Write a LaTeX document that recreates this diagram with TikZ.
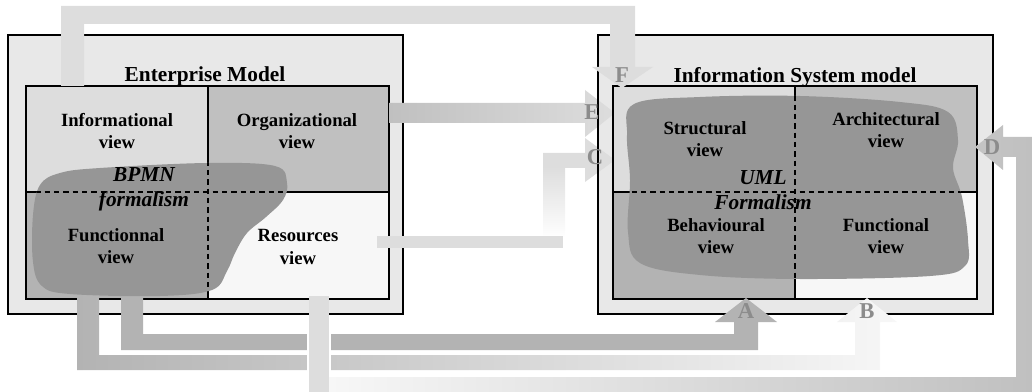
\documentclass[tikz,border=0pt]{standalone}
\usepackage{fontspec}
\setmainfont{Liberation Serif}
\usepackage{xcolor}
\usepackage{tikz}
\definecolor{outerC}{HTML}{E8E8E8}
\definecolor{lightC}{HTML}{DDDDDD}
\definecolor{midC}{HTML}{C0C0C0}
\definecolor{darkC}{HTML}{B3B3B3}
\definecolor{paleC}{HTML}{F7F7F7}
\definecolor{blobC}{HTML}{969696}
\definecolor{tagC}{HTML}{8C8C8C}
\tikzset{
  boxline/.style={draw=black, line width=1.3pt},
  dashdiv/.style={draw=black, line width=1pt, dash pattern=on 4pt off 3pt},
  blob/.style={fill=blobC},
  gap/.style={draw=white, line width=1.5pt},
  lab/.style={font=\fontsize{14}{17}\selectfont\bfseries, align=center, inner sep=0pt},
  ttl/.style={font=\fontsize{16}{19}\selectfont\bfseries, inner sep=0pt},
  frm/.style={font=\fontsize{16}{19}\selectfont\bfseries\itshape, align=center, inner sep=0pt},
  tag/.style={font=\fontsize{17}{17}\selectfont\bfseries, text=tagC, inner sep=0pt},
}
\newcommand\bpmnshape{plot[smooth cycle, tension=0.6] coordinates {(33,215) (40,185) (60,173) (100,168) (207,163) (275,166) (287,183) (283,200) (266,217) (247,233) (235,253) (227,271) (212,290) (160,296) (70,294) (42,286) (33,262)}}
\newcommand\umlshape{plot[smooth cycle, tension=0.6] coordinates {(627,135) (634,104) (700,97) (800,96) (900,102) (948,112) (958,140) (953,168) (962,197) (968,240) (965,266) (930,276) (800,279) (700,275) (640,263) (628,232) (630,180)}}
\begin{document}
\begin{tikzpicture}[x=0.75pt,y=-0.75pt]
  \useasboundingbox (0,0) rectangle (1032,392);
  % enterprise model
  \fill[outerC] (8,35) rectangle (403,314);
  \fill[lightC] (26,86) rectangle (208,192);
  \fill[midC] (208,86) rectangle (389,192);
  \fill[darkC] (26,192) rectangle (208,299);
  \fill[paleC] (208,192) rectangle (389,299);
  \draw[boxline] (8,35) rectangle (403,314);
  \draw[boxline] (26,86) rectangle (389,299);
  \draw[boxline] (208,86) -- (208,299) (26,192) -- (389,192);
  % information system model
  \fill[outerC] (598,35) rectangle (993,314);
  \fill[lightC] (613,86) rectangle (795,192);
  \fill[midC] (795,86) rectangle (977,192);
  \fill[darkC] (613,192) rectangle (795,299);
  \fill[paleC] (795,192) rectangle (977,299);
  % E and C
  \shade[left color=midC, right color=lightC] (389,103) -- (585,103) -- (585,90) -- (615,113) -- (585,137) -- (585,123) -- (389,123) -- cycle;
  \shade[top color=lightC, bottom color=white] (543,166) rectangle (565,238);
  \fill[lightC] (543,153) -- (585,153) -- (585,138) -- (615,160) -- (585,182) -- (585,168) -- (543,168) -- cycle;
  \fill[lightC] (377,236) rectangle (563,248);
  \draw[boxline] (598,35) rectangle (993,314);
  \draw[boxline] (613,86) rectangle (977,299);
  \draw[boxline] (795,86) -- (795,299) (613,192) -- (977,192);
  % A, B, D, F
  \fill[darkC] (121,292) -- (121,350) -- (758,350) -- (758,322) -- (777,322) -- (746,298) -- (715,322) -- (734,322) -- (734,334) -- (143,334) -- (143,292) -- cycle;
  \shade[left color=darkC, right color=paleC] (77,292) -- (77,370) -- (880,370) -- (880,322) -- (897,322) -- (867,298) -- (837,322) -- (855,322) -- (855,355) -- (99,355) -- (99,292) -- cycle;
  \shade[left color=paleC, right color=midC] (329,377) -- (329,392) -- (1032,392) -- (1032,137) -- (1003,137) -- (1003,125) -- (975,147) -- (1003,170) -- (1003,157) -- (1016,157) -- (1016,377) -- cycle;
  \fill[lightC] (309,296) rectangle (329,393);
  \draw[gap] (308,316) -- (308,392) (330,316) -- (330,376);
  \fill[lightC] (61,86) -- (61,6) -- (635,6) -- (635,67) -- (653,67) -- (622,88) -- (592,67) -- (610,67) -- (610,24) -- (84,24) -- (84,86) -- cycle;
  % formalisms
  \fill[blob] \bpmnshape;
  \begin{scope}
    \clip \bpmnshape;
    \draw[dashdiv] (208,86) -- (208,299) (26,192) -- (389,192);
  \end{scope}
  \fill[blob] \umlshape;
  \begin{scope}
    \clip \umlshape;
    \draw[dashdiv] (795,86) -- (795,299) (613,192) -- (977,192);
  \end{scope}
  % texts
  \node[ttl] (em) at (205,76) {Enterprise Model};
  \node[lab] (info) at (117,131) {Informational\\view};
  \node[lab] (org) at (297,131) {Organizational\\view};
  \node[lab] (func) at (116,246) {Functionnal\\view};
  \node[lab] (res) at (298,247) {Resources\\view};
  \node[frm] (bpmn) at (144,189) {BPMN\\formalism};
  \node[ttl] (ism) at (795,77) {Information System model};
  \node[lab] (struct) at (705,139) {Structural\\view};
  \node[lab] (arch) at (886,130) {Architectural\\view};
  \node[lab] (behav) at (716,236) {Behavioural\\view};
  \node[lab] (funcis) at (886,236) {Functional\\view};
  \node[frm] (uml) at (763,190) {UML\\Formalism};
  \node[tag] (tA) at (746,311) {A};
  \node[tag] (tB) at (867,311) {B};
  \node[tag] (tC) at (595,157) {C};
  \node[tag] (tD) at (992,147) {D};
  \node[tag] (tE) at (592,112) {E};
  \node[tag] (tF) at (622,75) {F};
\end{tikzpicture}
\end{document}
